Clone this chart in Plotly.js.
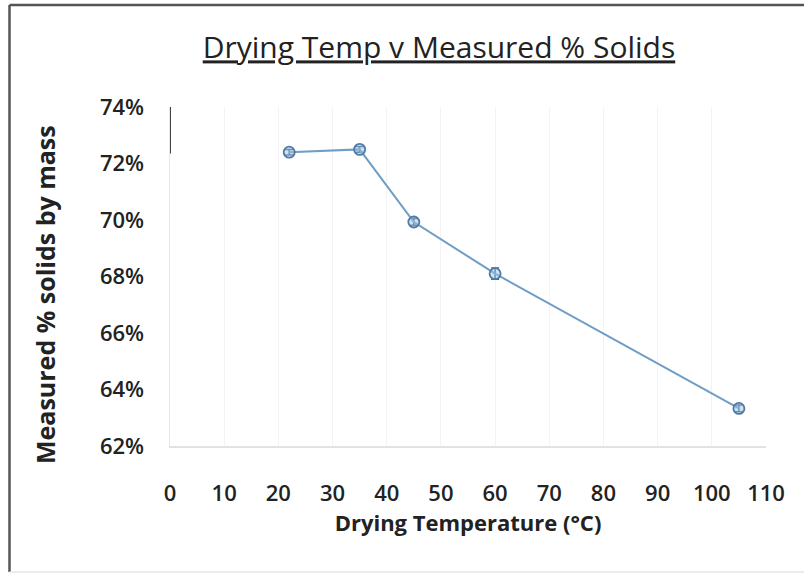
<!DOCTYPE html>
<html>
<head>
<meta charset="utf-8">
<script src="https://cdn.plot.ly/plotly-3.0.1.min.js"></script>
<style>
  html, body { margin: 0; padding: 0; background: #fff; }
  #chart { width: 804px; height: 577px; }
</style>
</head>
<body>
<div id="chart"></div>
<script>
const temperatures = [22, 35, 45, 60, 105];
const solids = [0.7240, 0.7250, 0.6993, 0.6810, 0.6333];
const solidsErr = [0.0010, 0.0010, 0.0012, 0.0020, 0.0012];
const yTicks = [0.62, 0.64, 0.66, 0.68, 0.70, 0.72, 0.74];
const xTicks = [0, 10, 20, 30, 40, 50, 60, 70, 80, 90, 100, 110];

const font = '"Open Sans", Lato, sans-serif';

const trace = {
  x: temperatures,
  y: solids,
  type: 'scatter',
  mode: 'lines+markers',
  line: { color: '#6f9dc6', width: 2 },
  marker: { symbol: 'circle', size: 11, color: 'rgba(160,195,228,0.5)', line: { color: '#4f7aa6', width: 1.8 } },
  error_y: { type: 'data', array: solidsErr, visible: true, color: '#3d5f85', thickness: 1.5, width: 4 },
  showlegend: false,
  hoverinfo: 'x+y'
};

const layout = {
  width: 804,
  height: 577,
  paper_bgcolor: '#fff',
  plot_bgcolor: '#fff',
  margin: { l: 170, r: 38, t: 107, b: 131 },
  title: {
    text: '<u>Drying Temp v Measured % Solids</u>',
    font: { family: font, size: 30, color: '#222' },
    x: 0.546, xanchor: 'center', y: 0.917, yanchor: 'middle'
  },
  xaxis: {
    range: [0, 110],
    tickvals: xTicks,
    ticktext: xTicks.map(String),
    showgrid: true,
    gridcolor: '#f3f3f3',
    zeroline: false,
    showline: true,
    linecolor: '#e2e2e2',
    linewidth: 1.5,
    ticks: '',
    ticklabelstandoff: 27,
    tickfont: { family: font, size: 22, weight: 600, color: '#222' },
    title: { text: '<b>Drying Temperature (°C)</b>', font: { family: font, size: 22, color: '#222' }, standoff: 6 }
  },
  yaxis: {
    range: [0.62, 0.74],
    tickvals: yTicks,
    tickformat: '.0%',
    showgrid: false,
    zeroline: false,
    showline: true,
    linecolor: '#e6e6e6',
    linewidth: 1.5,
    ticks: '',
    ticklabelstandoff: 20,
    tickfont: { family: font, size: 22, weight: 600, color: '#222' }
  },
  annotations: [
    {
      text: '<b>Measured % solids by mass</b>',
      xref: 'paper', yref: 'paper', x: -0.2097, y: 0.4454,
      xanchor: 'center', yanchor: 'middle', textangle: -90, showarrow: false,
      font: { family: font, size: 25, color: '#222' }
    }
  ],
  shapes: [
    { type: 'line', xref: 'paper', yref: 'paper', x0: -0.2693, x1: -0.2693, y0: -0.372, y1: 1.301, line: { color: '#555', width: 2.5 } },
    { type: 'line', xref: 'paper', yref: 'paper', x0: -0.2693, x1: 1.064, y0: 1.301, y1: 1.301, line: { color: '#555', width: 2.5 } },
    { type: 'line', xref: 'paper', yref: 'paper', x0: -0.2693, x1: 1.064, y0: -0.372, y1: -0.372, line: { color: '#e4e4e4', width: 1.5 } },
    { type: 'line', xref: 'x', yref: 'y', x0: 0, x1: 0, y0: 0.7235, y1: 0.74, line: { color: '#444', width: 2 } }
  ]
};

Plotly.newPlot('chart', [trace], layout, { staticPlot: true, displayModeBar: false });
</script>
</body>
</html>
